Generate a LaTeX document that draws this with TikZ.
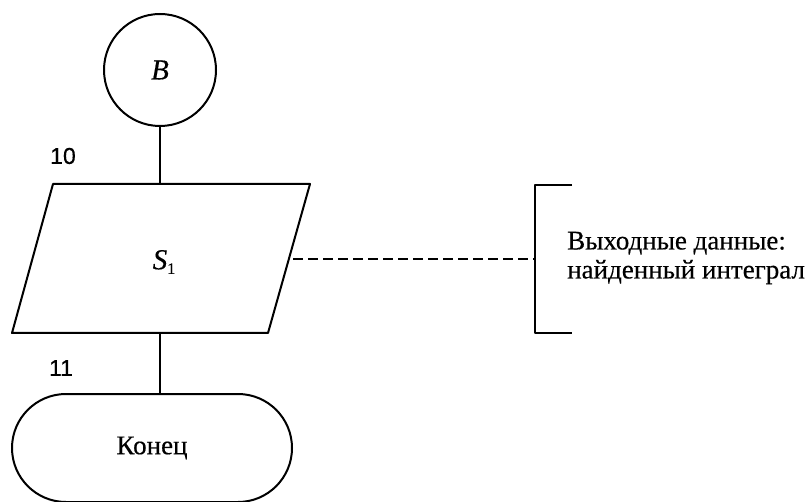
\documentclass[tikz,border=0pt]{standalone}
\usepackage{fontspec}
\setmainfont{Liberation Serif}[FakeBold=0.4]
\newfontfamily\numfont{Liberation Sans}[FakeBold=0.4]
\usetikzlibrary{shapes.misc}
\begin{document}
\begin{tikzpicture}[x=1pt,y=-1pt,
  shape line/.style={line width=2pt, line join=round},
  conn/.style={line width=1.5pt},
  lbl/.style={font=\numfont\fontsize{23}{26}\selectfont, inner sep=0pt},
  txt/.style={font=\fontsize{27}{29}\selectfont, inner sep=0pt}]
\useasboundingbox (0,0) rectangle (811,502);
% connector circle
\node[draw, shape line, circle, minimum size=112pt, inner sep=0pt,
      font=\itshape\fontsize{29}{30}\selectfont] (b) at (160,70) {B};
% parallelogram
\coordinate (tl) at (53,184);
\coordinate (tr) at (310,184);
\coordinate (br) at (268,333);
\coordinate (bl) at (12,333);
\coordinate (ptop) at (160,184);
\coordinate (pbot) at (160,333);
\coordinate (pright) at (293,259);
\draw[shape line] (tl) -- (tr) -- (br) -- (bl) -- cycle;
\node[font=\itshape\fontsize{29}{30}\selectfont, inner sep=0pt] (s) at (164,262) {S\raisebox{-0.35ex}{\upshape\fontsize{16}{18}\selectfont 1}};
% terminal
\node[draw, shape line, rounded rectangle, minimum width=280pt, minimum height=108pt,
      inner sep=0pt, txt] (end) at (152,448) {Конец};
% labels
\node[lbl] (n10) at (63,156) {10};
\node[lbl] (n11) at (61,368) {11};
% connectors
\draw[conn] (b.south) -- (ptop);
\draw[conn] (pbot) -- (pbot |- end.north);
% comment bracket
\coordinate (cl) at (535,259);
\draw[shape line] (572,185) -- (535,185) -- (535,333) -- (572,333);
\draw[conn, dash pattern=on 10pt off 5pt] (pright) -- (cl);
\node[txt, anchor=west, align=left] (comment) at (567,258) {Выходные данные:\\найденный интеграл};
\end{tikzpicture}
\end{document}
